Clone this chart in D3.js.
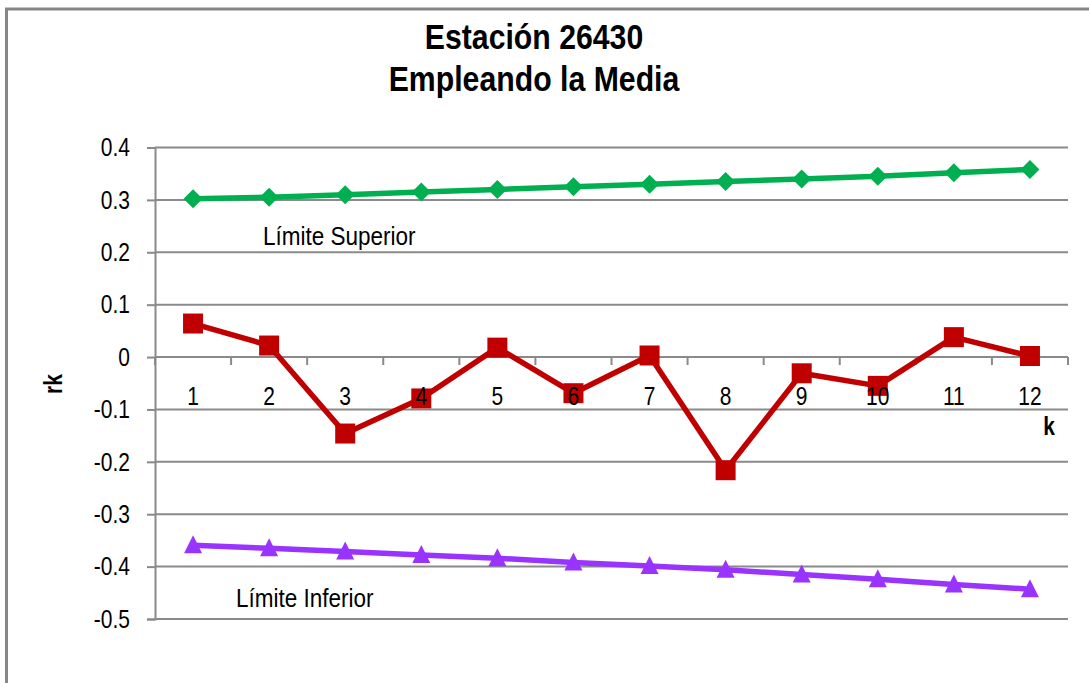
<!DOCTYPE html>
<html>
<head>
<meta charset="utf-8">
<script src="https://cdn.jsdelivr.net/npm/d3@7"></script>
<style>
  html, body { margin: 0; padding: 0; background: #fff; }
  svg { display: block; }
  text { font-family: "Liberation Sans", Arial, sans-serif; fill: #000; }
</style>
</head>
<body>
<svg id="chart" width="1089" height="683"></svg>
<script>
// Autocorrelation rk by lag k, with the upper and lower confidence limits
const lags = [1, 2, 3, 4, 5, 6, 7, 8, 9, 10, 11, 12];
const rk = [0.064, 0.022, -0.146, -0.079, 0.018, -0.069, 0.003, -0.216, -0.031, -0.055, 0.038, 0.002];
const limiteSuperior = [0.302, 0.305, 0.310, 0.315, 0.320, 0.325, 0.330, 0.335, 0.340, 0.345, 0.352, 0.358];
const limiteInferior = [-0.359, -0.365, -0.371, -0.378, -0.384, -0.392, -0.399, -0.406, -0.415, -0.424, -0.434, -0.443];
const yTicks = [0.4, 0.3, 0.2, 0.1, 0, -0.1, -0.2, -0.3, -0.4, -0.5];
const yTickLabels = ["0.4", "0.3", "0.2", "0.1", "0", "-0.1", "-0.2", "-0.3", "-0.4", "-0.5"];

const titleLines = ["Estación 26430", "Empleando la Media"];

const svg = d3.select("#chart");
const NARROW = 0.84; // horizontal squeeze giving a narrow face

// text helper: places a horizontally condensed label at (x, y)
function label(parent, x, y, str, opts = {}) {
  const sx = opts.scale || NARROW;
  const t = parent.append("text")
    .attr("transform", `translate(${x},${y}) rotate(${opts.rotate || 0}) scale(${sx},1)`)
    .attr("text-anchor", opts.anchor || "start")
    .attr("font-size", opts.size || 25)
    .attr("font-weight", opts.bold ? "bold" : "normal")
    .text(str);
  if (opts.dy) t.attr("dy", opts.dy);
  return t;
}

// outer chart frame
svg.append("rect")
  .attr("x", 6.5).attr("y", 9).attr("width", 1100).attr("height", 700)
  .attr("fill", "none").attr("stroke", "#878787").attr("stroke-width", 3);

const plot = { left: 155, right: 1068, top: 147.5, bottom: 619 };

const x = d3.scaleBand().domain(lags).range([plot.left, plot.right]).padding(0);
const y = d3.scaleLinear().domain([-0.5, 0.4]).range([plot.bottom, plot.top]);
const cx = k => x(k) + x.bandwidth() / 2;

const gridColor = "#8a8a8a";

// horizontal gridlines
svg.append("g").selectAll("line").data(yTicks).join("line")
  .attr("x1", plot.left).attr("x2", plot.right)
  .attr("y1", d => y(d)).attr("y2", d => y(d))
  .attr("stroke", gridColor).attr("stroke-width", 2);

// value axis on the left (line and ticks)
const yAxis = d3.axisLeft(y).tickValues(yTicks).tickSize(8).tickFormat("");
const gy = svg.append("g").attr("transform", `translate(${plot.left},0)`).call(yAxis);
gy.select(".domain").attr("stroke", gridColor).attr("stroke-width", 2);
gy.selectAll(".tick line").attr("stroke", gridColor).attr("stroke-width", 2);

const yLabels = svg.append("g");
yTicks.forEach((v, i) => label(yLabels, 130, y(v), yTickLabels[i], { anchor: "end", dy: "0.35em" }));

// category axis crossing at zero
const zeroY = y(0);
svg.append("line").attr("x1", plot.left).attr("x2", plot.right)
  .attr("y1", zeroY).attr("y2", zeroY).attr("stroke", gridColor).attr("stroke-width", 2);
const boundaries = lags.map(k => x(k)).concat([plot.right]);
svg.append("g").selectAll("line").data(boundaries).join("line")
  .attr("x1", d => d).attr("x2", d => d)
  .attr("y1", zeroY).attr("y2", zeroY + 8)
  .attr("stroke", gridColor).attr("stroke-width", 2);

const line = d3.line().x((d, i) => cx(lags[i])).y(d => y(d));

function drawSeries(values, color, symbolType, size) {
  svg.append("path").datum(values)
    .attr("d", line).attr("fill", "none")
    .attr("stroke", color).attr("stroke-width", 5.5).attr("stroke-linejoin", "round");
  svg.append("g").selectAll("path").data(values).join("path")
    .attr("d", d3.symbol().type(symbolType).size(size))
    .attr("transform", (d, i) => `translate(${cx(lags[i])},${y(d)})`)
    .attr("fill", color);
}

const diamond = {
  draw(ctx, size) {
    const r = Math.sqrt(size) / 2;
    ctx.moveTo(0, -r); ctx.lineTo(r, 0); ctx.lineTo(0, r); ctx.lineTo(-r, 0); ctx.closePath();
  }
};
const triangle = {
  draw(ctx, size) {
    const s = Math.sqrt(size);
    ctx.moveTo(0, -s / 2 - 1); ctx.lineTo(s / 2, s / 2 - 1); ctx.lineTo(-s / 2, s / 2 - 1); ctx.closePath();
  }
};

drawSeries(limiteSuperior, "#00B050", diamond, 19 * 19);
drawSeries(rk, "#C00000", d3.symbolSquare, 20 * 20);
drawSeries(limiteInferior, "#9933FF", triangle, 18 * 18);

// category labels sit on top of the series
const xLabels = svg.append("g");
lags.forEach(k => label(xLabels, cx(k), zeroY + 48, String(k), { anchor: "middle" }));

// titles
const titles = svg.append("g");
titleLines.forEach((t, i) => label(titles, 534, 49 + i * 42, t, { anchor: "middle", size: 36, bold: true }));

// series labels
label(svg, 263, 245, "Límite Superior", { scale: 0.9 });
label(svg, 236, 607, "Límite Inferior", { scale: 0.9 });

// axis titles
label(svg, 62, 384, "rk", { anchor: "middle", bold: true, rotate: -90 });
label(svg, 1049, 435, "k", { anchor: "middle", bold: true });
</script>
</body>
</html>
